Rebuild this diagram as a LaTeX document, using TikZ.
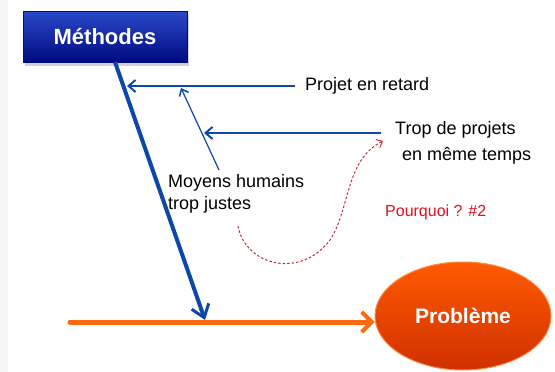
\documentclass[tikz,border=0pt]{standalone}
\usepackage{fontspec}
\setmainfont{Liberation Sans}
\usetikzlibrary{arrows.meta,shapes.geometric,shadows}
\definecolor{fishblue}{HTML}{0D47A8}
\definecolor{boxtop}{HTML}{2A48C8}
\definecolor{boxbot}{HTML}{000A80}
\definecolor{orline}{HTML}{FF6A10}
\definecolor{elltop}{HTML}{FF5A00}
\definecolor{ellbot}{HTML}{D03000}
\definecolor{redtxt}{HTML}{E0101E}
\definecolor{reddash}{HTML}{C8283A}
\tikzset{
  lbl/.style={font=\fontsize{18}{22}\selectfont, inner sep=0pt, align=left},
  bonearrow/.style={draw=fishblue, line width=2pt, -{Straight Barb[length=7pt,width=12pt,line width=2pt]}},
  thinarrow/.style={draw=fishblue, line width=1.2pt, -{Straight Barb[length=6pt,width=10pt,line width=1.5pt]}}
}
\begin{document}
\begin{tikzpicture}[x=1pt,y=-1pt]
\useasboundingbox (0,0) rectangle (555,372);
\fill[white] (0,0) rectangle (555,372);
\fill[gray!6] (0,0) rectangle (8,372);
% Methodes box
\node[rectangle, minimum width=164pt, minimum height=51pt, top color=boxtop, bottom color=boxbot, draw=boxbot, drop shadow={shadow xshift=2pt, shadow yshift=-3pt, opacity=0.35}, text=white, font=\bfseries\fontsize{22}{24}\selectfont] (meth) at (105,37) {Méthodes};
% Problem ellipse
\node[ellipse, minimum width=176pt, minimum height=108pt, top color=elltop, bottom color=ellbot, draw=orline!80!white, line width=1pt, text=white, font=\bfseries\fontsize{21}{23}\selectfont] (prob) at (463,316) {Problème};
% orange spine
\coordinate (spinestart) at (70,322);
\draw[orline, line width=5pt, line cap=round, -{Straight Barb[length=10pt,width=20pt,line width=4pt]}] (spinestart) -- (prob.west |- 0,322);
% main blue bone
\coordinate (bonetop) at (115,62);
\coordinate (boneend) at (205,320);
\draw[fishblue, line width=4pt, -{Straight Barb[length=12pt,width=18pt,line width=3pt]}] (bonetop) -- (boneend);
% labels
\node[lbl, anchor=west] (retard) at (305,86) {Projet en retard};
\node[lbl, anchor=west, font=\fontsize{18}{26}\selectfont] (trop) at (395,143) {Trop de projets\\\hspace*{7pt}en même temps};
\node[lbl, anchor=west] (moyens) at (168,194) {Moyens humains\\trop justes};
\node[lbl, anchor=west, text=redtxt, font=\fontsize{16}{18}\selectfont] (pq) at (385,212) {Pourquoi ? \#2};
% arrows
\coordinate (a1end) at (127,86);
\draw[bonearrow] (retard.west |- 0,86) ++(-10,0) -- (a1end);
\coordinate (a2start) at (381,133);
\coordinate (a2end) at (204,133);
\draw[bonearrow] (a2start) -- (a2end);
\coordinate (a3start) at (219,170);
\coordinate (a3end) at (181,88);
\draw[thinarrow] (a3start) -- (a3end);
% red dashed curve
\coordinate (rstart) at (238,226);
\coordinate (rend) at (383,141);
\draw[reddash, line width=1pt, dashed, dash pattern=on 2.5pt off 2pt, -{Straight Barb[length=5pt,width=9pt,line width=1pt]}]
  (rstart) .. controls (245,265) and (300,280) .. (330,240)
  .. controls (350,210) and (345,160) .. (rend);
\end{tikzpicture}
\end{document}
